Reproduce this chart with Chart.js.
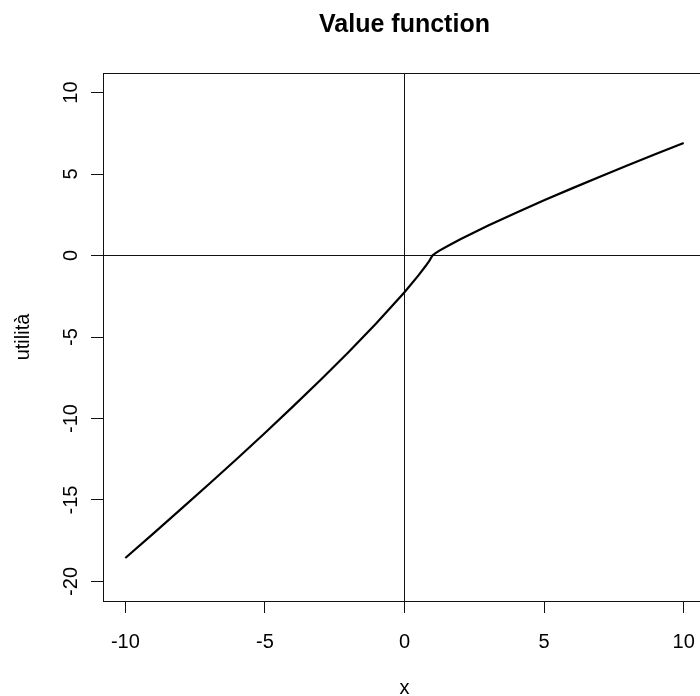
<!DOCTYPE html>
<html>
<head>
<meta charset="utf-8">
<title>Value function</title>
<script src="https://cdn.jsdelivr.net/npm/chart.js@4.4.1/dist/chart.umd.min.js"></script>
<style>
  html, body { margin: 0; padding: 0; overflow: hidden; background: #fff; width: 700px; height: 696px; }
  canvas { display: block; }
</style>
</head>
<body>
<canvas id="chart" width="706" height="696"></canvas>
<script>
// Value function: utility of an outcome x, kinked at the reference point x = 1
const xValues = [-10, -9, -8, -7, -6, -5, -4, -3, -2, -1, 0, 0.5, 0.75, 0.9, 1,
                 1.1, 1.25, 1.5, 2, 3, 4, 5, 6, 7, 8, 9, 10];
const utility = [-18.56, -17.07, -15.55, -14.02, -12.47, -10.89, -9.27, -7.62, -5.92, -4.14, -2.25, -1.22, -0.66, -0.30, 0,
                 0.13, 0.30, 0.54, 1.00, 1.84, 2.63, 3.39, 4.12, 4.84, 5.54, 6.23, 6.91];

const xTicks = [-10, -5, 0, 5, 10];
const yTicks = [-20, -15, -10, -5, 0, 5, 10];

const FONT = "'Liberation Sans', Arial, sans-serif";
const INK = '#111';

// Box drawn around the plotting region
const frame = {
  id: 'frame',
  afterDraw(chart) {
    const { ctx, chartArea: a } = chart;
    ctx.save();
    ctx.strokeStyle = INK;
    ctx.lineWidth = 1;
    ctx.strokeRect(Math.round(a.left) + 0.5, Math.round(a.top) + 0.5,
                   Math.round(a.right - a.left), Math.round(a.bottom - a.top));
    ctx.restore();
  }
};

// Only the zero lines are drawn across the plot; other grid lines are just tick marks
const zeroLine = (c) => (c.tick && c.tick.value === 0) ? INK : 'rgba(0,0,0,0)';

new Chart(document.getElementById('chart'), {
  type: 'scatter',
  data: {
    datasets: [{
      data: xValues.map((x, i) => ({ x, y: utility[i] })),
      showLine: true,
      borderColor: '#000',
      borderWidth: 2.2,
      pointRadius: 0,
      fill: false,
      tension: 0
    }]
  },
  options: {
    responsive: false,
    animation: false,
    events: [],
    layout: { padding: 0 },
    plugins: {
      legend: { display: false },
      tooltip: { enabled: false },
      title: {
        display: true,
        text: 'Value function',
        fullSize: false,
        color: '#000',
        font: { family: FONT, size: 25, weight: 'bold' },
        padding: { top: 10.5, bottom: 32.5 }
      }
    },
    scales: {
      x: {
        type: 'linear',
        min: -10.8,
        max: 10.8,
        afterBuildTicks: (s) => { s.ticks = xTicks.map(v => ({ value: v })); },
        afterFit: (s) => { s.height = 95; s.paddingLeft = 0; s.paddingRight = 0; },
        border: { display: false },
        grid: { drawOnChartArea: true, color: zeroLine, tickColor: INK, tickLength: 12, lineWidth: 1 },
        ticks: {
          autoSkip: false,
          maxRotation: 0,
          padding: 17,
          color: '#000',
          font: { family: FONT, size: 20 },
          callback: (v) => String(v)
        },
        title: {
          display: true,
          text: 'x',
          color: '#000',
          font: { family: FONT, size: 20, lineHeight: 0.72 },
          padding: { top: 0, bottom: 0 }
        }
      },
      y: {
        type: 'linear',
        min: -21.2,
        max: 11.2,
        afterBuildTicks: (s) => { s.ticks = yTicks.map(v => ({ value: v })); },
        afterFit: (s) => { s.width = 103; s.paddingTop = 0; s.paddingBottom = 0; },
        border: { display: false },
        grid: { drawOnChartArea: true, color: zeroLine, tickColor: INK, tickLength: 12, lineWidth: 1 },
        ticks: {
          autoSkip: false,
          minRotation: 90,
          maxRotation: 90,
          crossAlign: 'center',
          padding: 5.5,
          color: '#000',
          font: { family: FONT, size: 20 },
          callback: (v) => String(v)
        },
        title: {
          display: true,
          text: 'utilità',
          color: '#000',
          font: { family: FONT, size: 20, lineHeight: 1 },
          padding: { top: 13, bottom: 0 }
        }
      }
    }
  },
  plugins: [frame]
});
</script>
</body>
</html>
